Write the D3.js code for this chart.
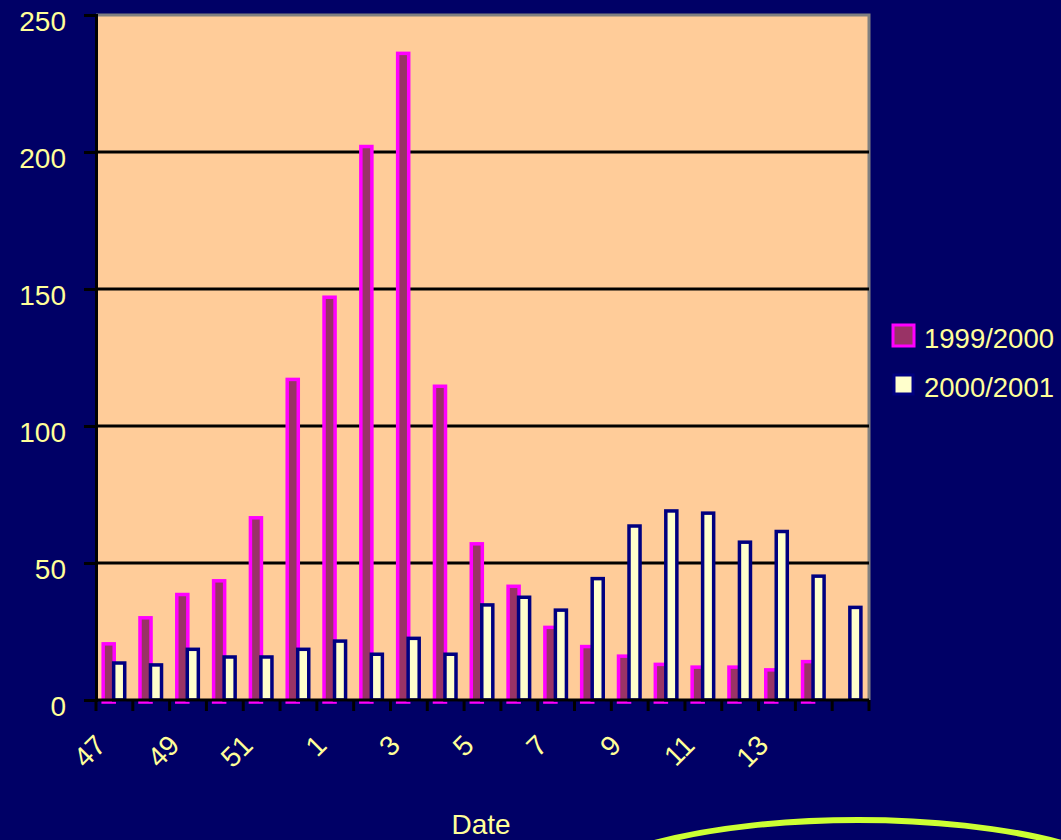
<!DOCTYPE html>
<html>
<head>
<meta charset="utf-8">
<script src="https://cdn.jsdelivr.net/npm/d3@7"></script>
<style>
  body { margin: 0; background: #000066; }
  svg { display: block; }
</style>
</head>
<body>
<div id="chart"></div>
<script>
(function(){

  var width = 1061;
  var height = 840;

  // weeks of the season
  var weeks = ['47','48','49','50','51','52','1','2','3','4','5','6','7','8','9','10','11','12','13','14','15'];
  var shownLabels = ['47','49','51','1','3','5','7','9','11','13'];
  var season1 = [20.5, 30, 38.5, 43.5, 66.5, 117, 147, 202, 236, 114.5, 57, 41.5, 26.5, 19.5, 16, 13, 12, 12, 11, 14, null];
  var season2 = [13.5, 12.8, 18.5, 15.7, 15.7, 18.5, 21.5, 16.7, 22.5, 16.7, 34.7, 37.5, 32.8, 44.3, 63.5, 69, 68.2, 57.6, 61.5, 45.2, 33.8];
  var seriesNames = ['1999/2000', '2000/2001'];
  var yTicks = [0, 50, 100, 150, 200, 250];

  var margin = {top: 15, left: 96, right: 192, bottom: 140};
  var plotW = width - margin.left - margin.right;
  var plotH = height - margin.top - margin.bottom;

  var textColor = '#ffff99';
  var font = 'Liberation Sans, Arial, sans-serif';

  var svg = d3.select('#chart')
        .append('svg')
        .attr('width', width)
        .attr('height', height);

  svg.append('rect')
    .attr('width', width).attr('height', height)
    .attr('fill', '#000066');

  var x = d3.scaleBand().domain(weeks).range([0, plotW]).padding(0);
  var y = d3.scaleLinear().domain([0, 250]).range([plotH, 0]);

  var g = svg.append('g').attr('transform', 'translate(' + margin.left + ',' + margin.top + ')');

  // plot area
  g.append('rect')
    .attr('width', plotW).attr('height', plotH)
    .attr('fill', '#ffcc99');

  // border top / right in grey
  g.append('path')
    .attr('d', 'M0,0H' + plotW + 'V' + plotH)
    .attr('fill', 'none')
    .attr('stroke', '#808080')
    .attr('stroke-width', 3);

  // gridlines
  g.selectAll('.grid')
    .data(yTicks.filter(function(d){ return d > 0 && d < 250; }))
    .enter().append('line')
      .attr('x1', 0).attr('x2', plotW)
      .attr('y1', function(d){ return y(d); })
      .attr('y2', function(d){ return y(d); })
      .attr('stroke', '#000')
      .attr('stroke-width', 3);

  var step = x.step();
  var barW = step * 0.30;

  // 1999/2000 bars
  g.selectAll('.s1')
    .data(season1.map(function(v, i){ return {w: weeks[i], v: v}; }).filter(function(d){ return d.v != null; }))
    .enter().append('rect')
      .attr('x', function(d){ return x(d.w) + step / 2 - step * 0.155 - barW / 2; })
      .attr('y', function(d){ return y(d.v); })
      .attr('width', barW)
      .attr('height', function(d){ return plotH - y(d.v) + 2; })
      .attr('fill', '#993366')
      .attr('stroke', '#ff00ff')
      .attr('stroke-width', 3.5);

  // 2000/2001 bars
  g.selectAll('.s2')
    .data(season2.map(function(v, i){ return {w: weeks[i], v: v}; }))
    .enter().append('rect')
      .attr('x', function(d){ return x(d.w) + step / 2 + step * 0.13 - barW / 2; })
      .attr('y', function(d){ return y(d.v); })
      .attr('width', barW)
      .attr('height', function(d){ return plotH - y(d.v); })
      .attr('fill', '#ffffcc')
      .attr('stroke', '#000080')
      .attr('stroke-width', 3.5);

  // y axis
  var yAxis = d3.axisLeft(y).tickValues(yTicks).tickSize(12).tickPadding(18);
  var ya = g.append('g').call(yAxis);
  ya.select('.domain').attr('stroke', '#000').attr('stroke-width', 3);
  ya.selectAll('.tick line').attr('stroke', '#000').attr('stroke-width', 3);
  ya.selectAll('.tick text')
    .attr('dy', '0.57em')
    .attr('fill', textColor)
    .attr('font-family', font)
    .attr('font-size', '28px');

  // x axis line + ticks at category boundaries
  g.append('line')
    .attr('x1', 0).attr('x2', plotW)
    .attr('y1', plotH).attr('y2', plotH)
    .attr('stroke', '#000').attr('stroke-width', 3);

  var bounds = weeks.map(function(w){ return x(w); }).concat([plotW]);
  g.selectAll('.xtick')
    .data(bounds)
    .enter().append('line')
      .attr('x1', function(d){ return d; })
      .attr('x2', function(d){ return d; })
      .attr('y1', plotH).attr('y2', plotH + 11)
      .attr('stroke', '#000').attr('stroke-width', 3);

  g.selectAll('.xlabel')
    .data(shownLabels)
    .enter().append('text')
      .attr('transform', function(d){
        return 'translate(' + (x(d) + step / 2 - 7) + ',' + (plotH + 47) + ') rotate(-45)';
      })
      .attr('text-anchor', 'end')
      .attr('fill', textColor)
      .attr('font-family', font)
      .attr('font-size', '28px')
      .text(function(d){ return d; });

  // axis title
  svg.append('text')
    .attr('x', 481).attr('y', 834)
    .attr('text-anchor', 'middle')
    .attr('fill', textColor)
    .attr('font-family', font)
    .attr('font-size', '28px')
    .text('Date');

  // legend
  var legend = svg.append('g').attr('transform', 'translate(893,325)');
  var legendStyle = [
    {fill: '#993366', stroke: '#ff00ff'},
    {fill: '#ffffcc', stroke: '#000080'}
  ];
  seriesNames.forEach(function(name, i){
    var row = legend.append('g').attr('transform', 'translate(0,' + (i * 49) + ')');
    row.append('rect')
      .attr('x', i === 0 ? 0 : 1).attr('y', i === 0 ? 0 : 1)
      .attr('width', i === 0 ? 21 : 19).attr('height', i === 0 ? 21 : 19)
      .attr('fill', legendStyle[i].fill)
      .attr('stroke', legendStyle[i].stroke)
      .attr('stroke-width', 3);
    row.append('text')
      .attr('x', 31).attr('y', 23)
      .attr('fill', textColor)
      .attr('font-family', font)
      .attr('font-size', '28px')
      .attr('textLength', 130)
      .attr('lengthAdjust', 'spacingAndGlyphs')
      .text(name);
  });

  // decorative arc bottom right
  svg.append('ellipse')
    .attr('cx', 858).attr('cy', 900)
    .attr('rx', 290).attr('ry', 80)
    .attr('fill', 'none')
    .attr('stroke', '#ccff33')
    .attr('stroke-width', 6);

})();
</script>
</body>
</html>
